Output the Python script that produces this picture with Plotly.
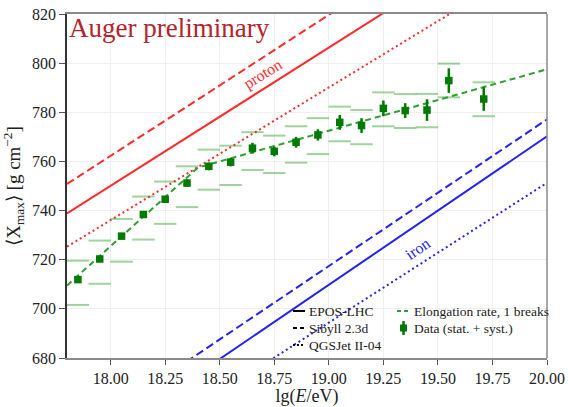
import plotly.graph_objects as go

# ---- data ----
lgE = [17.85, 17.95, 18.05, 18.15, 18.25, 18.35, 18.45, 18.55, 18.65, 18.75,
       18.85, 18.95, 19.05, 19.15, 19.25, 19.35, 19.45, 19.55, 19.71]
xmax = [711.9, 720.3, 729.6, 738.4, 744.6, 751.2, 758.0, 759.7, 765.4, 764.1,
        767.8, 770.8, 775.9, 774.6, 781.6, 780.7, 780.9, 792.9, 785.4]
stat = [1.0, 1.0, 1.0, 1.2, 1.3, 1.5, 1.6, 1.7, 2.2, 2.0,
        2.2, 2.3, 3.0, 3.0, 3.2, 3.0, 4.4, 5.0, 4.8]
sys_up = [7.7, 7.5, 7.0, 7.3, 7.2, 6.8, 6.8, 6.7, 6.5, 6.4,
          6.5, 6.8, 6.4, 6.3, 6.5, 6.7, 6.6, 6.9, 6.8]
sys_lo = [10.3, 10.1, 10.4, 10.2, 10.0, 9.8, 9.5, 9.3, 8.9, 8.8,
          8.3, 7.8, 7.7, 7.6, 7.3, 7.1, 7.0, 6.8, 7.0]

# elongation rate fit, one break
er_x = [17.80, 18.40, 20.00]
er_y = [709.5, 757.5, 797.5]

# model predictions (lgE endpoints)
model_x = [17.80, 20.00]
proton_epos = [738.8, 862.6]
proton_sibyll = [750.8, 877.0]
proton_qgsjet = [725.3, 844.1]
iron_epos = [637.3, 770.2]
iron_sibyll = [645.8, 777.1]
iron_qgsjet = [626.1, 751.3]

x_ticks = [18.00, 18.25, 18.50, 18.75, 19.00, 19.25, 19.50, 19.75, 20.00]
y_ticks = [680, 700, 720, 740, 760, 780, 800, 820]

SERIF = "Liberation Serif"
RED = "#ff2a2a"
BLUE = "#2424f0"
GREEN = "#007a00"
ERG = "#2e9e2e"
SYS = "rgba(0,140,0,0.38)"

fig = go.Figure()

def model(y, color, dash):
    fig.add_trace(go.Scatter(x=model_x, y=y, mode="lines",
                             line=dict(color=color, width=2, dash=dash),
                             showlegend=False, hoverinfo="skip"))

model(proton_epos, RED, "solid")
model(proton_sibyll, RED, "8px,4px")
model(proton_qgsjet, RED, "2px,3px")
model(iron_epos, BLUE, "solid")
model(iron_sibyll, BLUE, "8px,4px")
model(iron_qgsjet, BLUE, "2px,3px")

# systematic bands
sys_x = lgE + lgE
sys_y = [v + u for v, u in zip(xmax, sys_up)] + [v - d for v, d in zip(xmax, sys_lo)]
fig.add_trace(go.Scatter(x=sys_x, y=sys_y, mode="markers",
                         marker=dict(symbol="line-ew", size=16,
                                     line=dict(color=SYS, width=2)),
                         showlegend=False, hoverinfo="skip"))

# elongation rate
fig.add_trace(go.Scatter(x=er_x, y=er_y, mode="lines",
                         line=dict(color=ERG, width=2, dash="6px,4px"),
                         showlegend=False))

# data
fig.add_trace(go.Scatter(x=lgE, y=xmax, mode="markers",
                         marker=dict(symbol="square", size=7.5, color=GREEN),
                         error_y=dict(type="data", array=stat, thickness=2.5,
                                      width=0, color=GREEN),
                         showlegend=False))

# ---- layout ----
L, R, T, B = 67, 21, 14, 49
W, H = 568, 407
pw, ph = W - L - R, H - T - B

def px(xp):
    return (xp - L) / pw

def py(yp):
    return (T + ph - yp) / ph

shapes = []
annotations = []

# right spine
shapes.append(dict(type="line", xref="paper", yref="paper", x0=1, x1=1, y0=0, y1=1,
                   line=dict(color="#8a8a8a", width=1.5)))

# manual legend
leg_font = dict(family=SERIF, size=13.5, color="#222")
col1 = [("EPOS-LHC", "solid", 311), ("Sibyll 2.3d", "4px,3px", 328),
        ("QGSJet II-04", "2px,2px", 345)]
for name, dash, yp in col1:
    shapes.append(dict(type="line", xref="paper", yref="paper",
                       x0=px(293), x1=px(305), y0=py(yp), y1=py(yp),
                       line=dict(color="black", width=2, dash=dash)))
    annotations.append(dict(x=px(307), y=py(yp), xref="paper", yref="paper",
                            text=name, showarrow=False, xanchor="left",
                            yanchor="middle", font=leg_font))
shapes.append(dict(type="line", xref="paper", yref="paper",
                   x0=px(397), x1=px(410), y0=py(311), y1=py(311),
                   line=dict(color=ERG, width=2, dash="4px,3px")))
annotations.append(dict(x=px(412), y=py(311), xref="paper", yref="paper",
                        text="Elongation rate, 1 breaks", showarrow=False,
                        xanchor="left", yanchor="middle", font=leg_font))
shapes.append(dict(type="line", xref="paper", yref="paper",
                   x0=px(403.5), x1=px(403.5), y0=py(321), y1=py(335),
                   line=dict(color=GREEN, width=2.5)))
shapes.append(dict(type="rect", xref="paper", yref="paper",
                   x0=px(400), x1=px(407), y0=py(331.5), y1=py(324.5),
                   fillcolor=GREEN, line=dict(width=0)))
annotations.append(dict(x=px(412), y=py(328), xref="paper", yref="paper",
                        text="Data (stat. + syst.)", showarrow=False,
                        xanchor="left", yanchor="middle", font=leg_font))

# labels
annotations.append(dict(x=0.0, y=1.0, xref="paper", yref="paper",
                        text="Auger preliminary", showarrow=False,
                        xanchor="left", yanchor="top", xshift=0, yshift=3,
                        font=dict(family=SERIF, size=27, color="#b3242c")))
annotations.append(dict(x=18.70, y=795.6, text="proton", showarrow=False,
                        textangle=-32, font=dict(family=SERIF, size=16, color=RED)))
annotations.append(dict(x=19.41, y=724.4, text="iron", showarrow=False,
                        textangle=-34, font=dict(family=SERIF, size=16, color=BLUE)))

fig.update_layout(
    width=W, height=H,
    margin=dict(l=L, r=R, t=T, b=B, autoexpand=False),
    paper_bgcolor="white", plot_bgcolor="white",
    font=dict(family=SERIF, size=16, color="#222"),
    shapes=shapes, annotations=annotations,
    showlegend=False,
)
fig.update_xaxes(
    range=[17.80, 20.00], tickvals=x_ticks,
    ticktext=[f"{v:.2f}" for v in x_ticks],
    automargin=False,
    showgrid=True, gridcolor="#f0f0f0", gridwidth=1, zeroline=False,
    showline=True, linecolor="#8a8a8a", linewidth=1.5, mirror=True,
    ticks="outside", ticklen=5, tickcolor="#555", tickwidth=1,
    tickfont=dict(family=SERIF, size=16, color="#222"),
    title=dict(text="lg(<i>E</i>/eV)", font=dict(family=SERIF, size=18)),
)
fig.update_yaxes(
    range=[680, 820], tickvals=y_ticks,
    automargin=False,
    showgrid=True, gridcolor="#f0f0f0", gridwidth=1, zeroline=False,
    showline=True, linecolor="#333", linewidth=1.5,
    ticks="outside", ticklen=6, tickcolor="#555", tickwidth=1,
    tickfont=dict(family=SERIF, size=16, color="#222"),
    title=dict(text="⟨X<sub>max</sub>⟩ [g cm<sup>−2</sup>]",
               font=dict(family=SERIF, size=19)),
)

fig.write_html("out.html", config={"displayModeBar": False},
               post_script="document.body.style.margin='0';document.body.style.padding='0';")
